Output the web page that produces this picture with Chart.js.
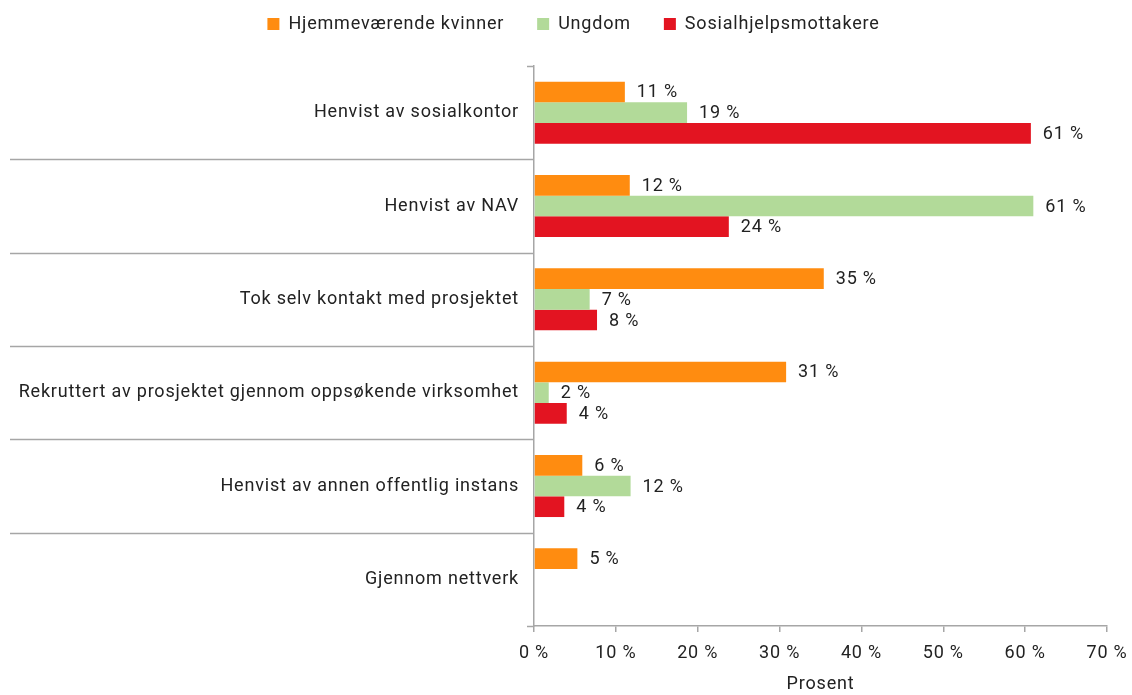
<!DOCTYPE html>
<html>
<head>
<meta charset="utf-8">
<script src="https://cdn.jsdelivr.net/npm/chart.js@4/dist/chart.umd.min.js"></script>
<style>
  body { margin: 0; background: #fff; }
  #wrap { width: 1132px; height: 695px; }
</style>
</head>
<body>
<div id="wrap"><canvas id="chart" width="1132" height="695"></canvas></div>
<script>
var categories = [
  'Henvist av sosialkontor',
  'Henvist av NAV',
  'Tok selv kontakt med prosjektet',
  'Rekruttert av prosjektet gjennom oppsøkende virksomhet',
  'Henvist av annen offentlig instans',
  'Gjennom nettverk'
];
var seriesNames = ['Hjemmeværende kvinner', 'Ungdom', 'Sosialhjelpsmottakere'];
var kvinner = [11.1, 11.7, 35.4, 30.8, 5.9, 5.3];
var ungdom = [18.7, 61.0, 6.8, 1.8, 11.8, null];
var sosial = [60.7, 23.8, 7.7, 4.0, 3.7, null];
var xTicks = [0, 10, 20, 30, 40, 50, 60, 70];

var colors = ['#ff8c10', '#b2da99', '#e31421'];
var axisColor = '#a6a6a6';
var textColor = '#222222';
var fontFamily = 'Roboto, "Noto Sans", sans-serif';
var fontSize = 18;

// a little letter spacing on every text, also while measuring
var spacing = {
  id: 'spacing',
  beforeUpdate: function(chart) { chart.ctx.letterSpacing = '0.8px'; },
  beforeDraw: function(chart) { chart.ctx.letterSpacing = '0.8px'; }
};

// fixed legend height, and the legend nudged a bit right and up
var legendTweak = {
  id: 'legendTweak',
  afterInit: function(chart) {
    var lg = chart.legend;
    if (!lg) return;
    var fit = lg.fit;
    var draw = lg.draw;
    lg.fit = function() {
      fit.call(this);
      this.height = 66;
    };
    lg.draw = function() {
      var l = this.left, t = this.top;
      this.left = l + 30;
      this.top = t - 18;
      draw.call(this);
      this.left = l;
      this.top = t;
    };
  }
};

// separator lines between the categories, reaching into the label area
var separators = {
  id: 'separators',
  afterDraw: function(chart) {
    var y = chart.scales.y;
    var ctx = chart.ctx;
    var n = categories.length;
    var step = (y.getPixelForValue(1) - y.getPixelForValue(0));
    ctx.save();
    ctx.strokeStyle = axisColor;
    ctx.lineWidth = 1.5;
    for (var i = 0; i <= n; i++) {
      var py = Math.round(y.getPixelForValue(i) - step / 2) + 0.5;
      var x0 = (i === 0 || i === n) ? y.right - 7 : 10;
      ctx.beginPath();
      ctx.moveTo(x0, py);
      ctx.lineTo(y.right, py);
      ctx.stroke();
    }
    ctx.restore();
  }
};

// value labels at the end of each bar
var valueLabels = {
  id: 'valueLabels',
  afterDatasetsDraw: function(chart) {
    var ctx = chart.ctx;
    ctx.save();
    ctx.font = fontSize + 'px ' + fontFamily;
    ctx.fillStyle = textColor;
    ctx.textAlign = 'left';
    ctx.textBaseline = 'middle';
    chart.data.datasets.forEach(function(ds, di) {
      var meta = chart.getDatasetMeta(di);
      meta.data.forEach(function(bar, i) {
        var v = ds.data[i];
        if (v === null || v === undefined) return;
        ctx.fillText(Math.round(v) + ' %', bar.x + 12, bar.y + 1);
      });
    });
    ctx.restore();
  }
};

var ctx = document.getElementById('chart');
var chart = new Chart(ctx, {
  type: 'bar',
  data: {
    labels: categories,
    datasets: [
      { label: seriesNames[0], data: kvinner, backgroundColor: colors[0] },
      { label: seriesNames[1], data: ungdom, backgroundColor: colors[1] },
      { label: seriesNames[2], data: sosial, backgroundColor: colors[2] }
    ]
  },
  options: {
    responsive: false,
    animation: false,
    indexAxis: 'y',
    categoryPercentage: 0.665,
    barPercentage: 1.0,
    layout: { padding: { left: 10, right: 25, top: 0, bottom: 0 } },
    plugins: {
      legend: {
        position: 'top',
        labels: {
          boxWidth: 12,
          boxHeight: 12,
          padding: 33,
          color: textColor,
          font: { family: fontFamily, size: fontSize }
        }
      },
      tooltip: { enabled: false }
    },
    scales: {
      x: {
        min: 0,
        max: 70,
        afterBuildTicks: function(scale) {
          scale.ticks = xTicks.map(function(v) { return { value: v }; });
        },
        afterFit: function(scale) {
          scale.height = 69;
          scale.paddingLeft = 0;
          scale.paddingRight = 0;
        },
        border: { display: true, color: axisColor, width: 1.5 },
        grid: { drawOnChartArea: false, drawTicks: true, tickLength: 6, color: axisColor, lineWidth: 1.5 },
        ticks: {
          padding: 11,
          color: textColor,
          font: { family: fontFamily, size: fontSize },
          callback: function(v) { return v + ' %'; }
        },
        title: {
          display: true,
          text: 'Prosent',
          color: textColor,
          font: { family: fontFamily, size: fontSize },
          padding: { top: 6, bottom: 0 }
        }
      },
      y: {
        afterFit: function(scale) { scale.width = 524; },
        border: { display: true, color: axisColor, width: 1.5 },
        grid: { display: false, drawTicks: false },
        ticks: {
          padding: 15,
          color: textColor,
          font: { family: fontFamily, size: fontSize }
        }
      }
    }
  },
  plugins: [spacing, legendTweak, separators, valueLabels]
});
</script>
</body>
</html>
